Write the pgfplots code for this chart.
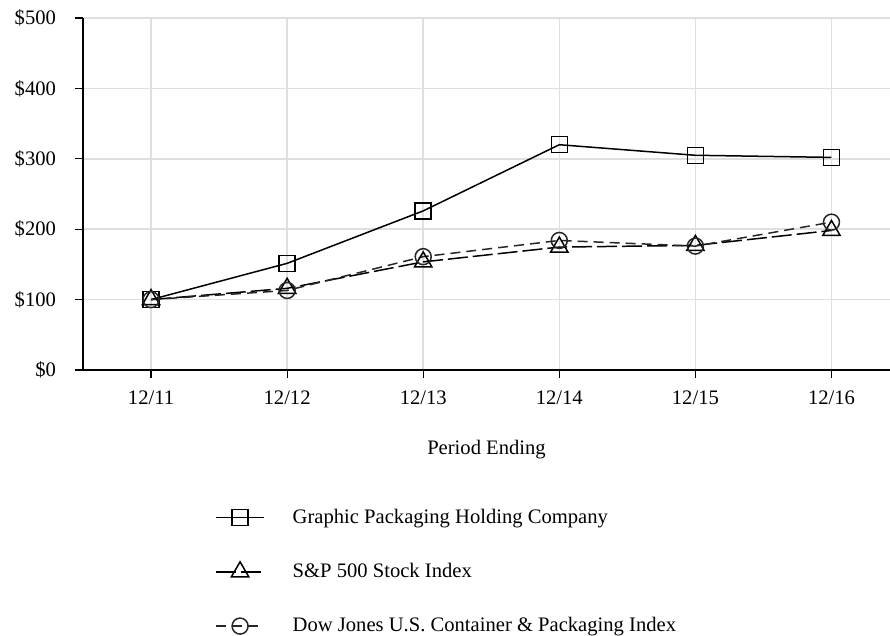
\documentclass[border=0pt]{standalone}
\usepackage{fontspec}
\setmainfont{Liberation Serif}
\usepackage{pgfplots}
\pgfplotsset{compat=1.18}
\begin{document}
\begin{tikzpicture}
\begin{axis}[
  scale only axis,
  width=403.5pt, height=176pt,
  xmin=-0.5, xmax=5.43,
  ymin=0, ymax=500,
  axis x line=bottom, axis y line=left,
  axis line style={line width=1.4pt, -},
  xtick={0,1,2,3,4,5},
  xticklabels={12/11,12/12,12/13,12/14,12/15,12/16},
  ytick={0,100,200,300,400,500},
  yticklabels={\$0,\$100,\$200,\$300,\$400,\$500},
  tick align=outside,
  major tick length=4pt,
  tick style={black, line width=0.6pt},
  grid=major,
  grid style={gray!25, line width=0.8pt},
  /pgf/number format/assume math mode=true,
  ticklabel style={font=\fontsize{10.3}{12}\selectfont},
  yticklabel style={xshift=-6pt},
  xticklabel style={yshift=-3pt},
  xlabel={Period Ending},
  xlabel style={font=\fontsize{10.3}{12}\selectfont, yshift=-11pt},
  legend style={draw=none, at={(axis description cs:0.1636,-0.382)}, anchor=north west,
    inner sep=0pt, row sep=14.5pt, column sep=12pt, font=\fontsize{10.3}{12}\selectfont,
    legend cell align=left},
  legend image code/.code={\draw[mark repeat=2,mark phase=2] plot coordinates {(0cm,0cm)(0.42cm,0cm)(0.84cm,0cm)};},
  every axis plot/.append style={line width=0.75pt, mark size=4pt, mark options={solid, line width=0.75pt, fill=none}},
]
\addplot[black, mark=square] coordinates {(0,100) (1,151.5) (2,226) (3,320) (4,305) (5,302)};
\addlegendentry{Graphic Packaging Holding Company}
\addplot[black, dash pattern=on 10pt off 2.5pt, mark=triangle, mark size=5pt] coordinates {(0,100) (1,116) (2,153.6) (3,174.6) (4,177) (5,198.2)};
\addlegendentry{S\&P 500 Stock Index}
\addplot[black!85, dash pattern=on 5pt off 3pt, mark=o] coordinates {(0,100) (1,113) (2,161) (3,184) (4,176) (5,210)};
\addlegendentry{Dow Jones U.S. Container \& Packaging Index}
\end{axis}
\pgfresetboundingbox
\path[use as bounding box] (current axis.south west) ++(-41.5pt,-133pt) rectangle ++(445pt,318pt);
\end{tikzpicture}
\end{document}
